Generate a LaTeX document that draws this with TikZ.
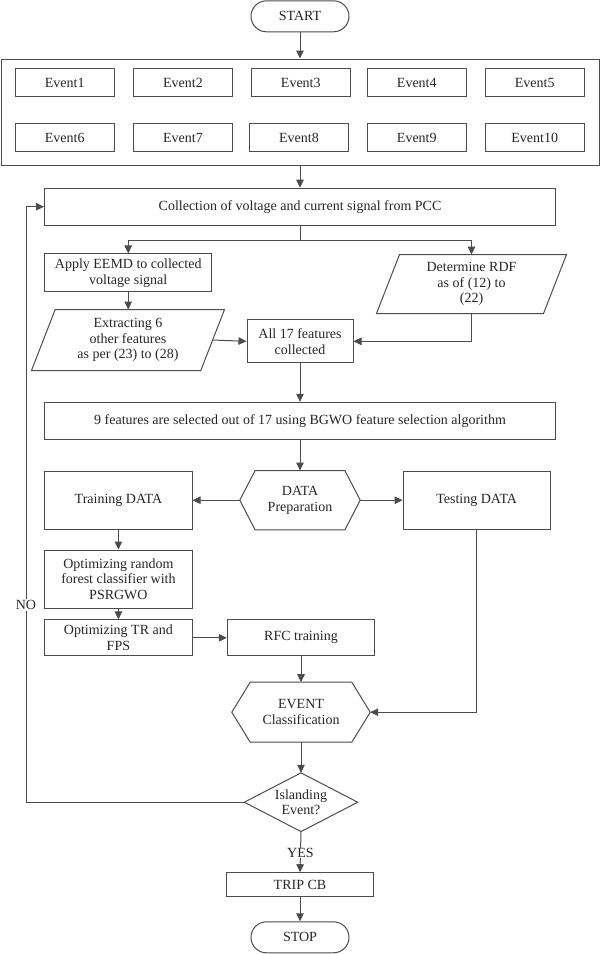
\documentclass[tikz,border=0pt]{standalone}
\usepackage{fontspec}
\setmainfont{Liberation Serif}
\usetikzlibrary{arrows.meta,calc}
\begin{document}
\begin{tikzpicture}[x=1pt,y=-1pt,
  line width=1pt,
  every node/.style={font=\fontsize{14}{15.8}\selectfont, text=black!85, inner sep=0pt, align=center},
  box/.style={draw=black!70, rectangle, minimum width=#1},
  box/.default=147pt,
  plain/.style={rectangle},
  term/.style={draw=black!70, rectangle, rounded corners=15.5pt, minimum width=98pt, minimum height=31pt},
  ev/.style={draw=black!70, rectangle, minimum width=99pt, minimum height=28.5pt},
  arr/.style={draw=black!70, -{Triangle[length=8pt,width=7.5pt]}},
  ln/.style={draw=black!70},
  shp/.style={draw=black!70}
]
\useasboundingbox (0,0) rectangle (600,954);

% START
\node[term] (start) at (300,16.3) {START};

% outer events box
\node[draw=black!70, rectangle, minimum width=598pt, minimum height=106pt] (events) at (300,112) {};
\foreach \i/\x in {1/64.7,2/183,3/300.8,4/416.8,5/534.7}{
  \node[ev] (e\i) at (\x,82.5) {Event\i};
}
\foreach \i/\x in {6/64.7,7/183,8/299,9/416.8,10/534.7}{
  \node[ev] (e\i) at (\x,137.5) {Event\i};
}

% collection
\node[box=511pt, minimum height=37pt] (coll) at (300,206.7) {Collection of voltage and current signal from PCC};

% EEMD
\node[box=167pt, minimum height=37.7pt] (eemd) at (128.2,272.8) {Apply EEMD to collected\\voltage signal};

% Extracting parallelogram
\node[plain, minimum width=192pt, minimum height=60pt] (ext) at (128,340) {Extracting 6\\other features\\as per (23) to (28)};
\draw[shp] ([xshift=23.7pt]ext.north west) -- (ext.north east) -- ([xshift=-23.7pt]ext.south east) -- (ext.south west) -- cycle;
\coordinate (extR) at ($(ext.east)+(-11.85,0)$);

% RDF parallelogram
\node[plain, minimum width=189pt, minimum height=58pt] (rdf) at (471.5,284) {Determine RDF\\as of (12) to\\(22)};
\draw[shp] ([xshift=23pt]rdf.north west) -- (rdf.north east) -- ([xshift=-23pt]rdf.south east) -- (rdf.south west) -- cycle;

% All 17
\node[box=106pt, minimum height=42.7pt] (all) at (300,341.3) {All 17 features\\collected};

% 9 features
\node[box=511pt, minimum height=37pt] (sel) at (300,420.8) {9 features are selected out of 17 using BGWO feature selection algorithm};

% DATA preparation hexagon
\node[plain, minimum width=119.4pt, minimum height=58.3pt] (prep) at (300,500.2) {DATA\\Preparation};
\draw[shp] (prep.west) -- ([xshift=15.3pt]prep.north west) -- ([xshift=-15.3pt]prep.north east) -- (prep.east) -- ([xshift=-15.3pt]prep.south east) -- ([xshift=15.3pt]prep.south west) -- cycle;

% Training / Testing
\node[box=147.2pt, minimum height=58.3pt] (train) at (118.4,500.2) {Training DATA};
\node[box=147.3pt, minimum height=58.3pt] (test) at (476.7,500.2) {Testing DATA};

% Optimizing random forest
\node[box=147.2pt, minimum height=58.3pt] (optrf) at (118.4,579.2) {Optimizing random\\forest classifier with\\PSRGWO};

% Optimizing TR and FPS
\node[box=147.2pt, minimum height=35.7pt] (opttr) at (118.4,637.8) {Optimizing TR and\\FPS};

% RFC training
\node[box=147.4pt, minimum height=35.7pt] (rfc) at (301,637.8) {RFC training};

% EVENT Classification hexagon
\node[plain, minimum width=137.4pt, minimum height=59pt] (cls) at (301,712.2) {EVENT\\Classification};
\draw[shp] (cls.west) -- ([xshift=18.4pt]cls.north west) -- ([xshift=-18.4pt]cls.north east) -- (cls.east) -- ([xshift=-18.4pt]cls.south east) -- ([xshift=18.4pt]cls.south west) -- cycle;

% decision diamond
\node[plain, minimum width=112.4pt, minimum height=57.7pt] (dec) at (301,802.2) {Islanding\\Event?};
\draw[shp] (dec.north) -- (dec.east) -- (dec.south) -- (dec.west) -- cycle;

% TRIP CB
\node[box=147pt, minimum height=24pt] (trip) at (300,884.7) {TRIP CB};

% STOP
\node[term] (stop) at (300,937.3) {STOP};

% connectors
\draw[arr] (start.south) -- (events.north);
\draw[arr] (events.south) -- (coll.north);
\coordinate (split) at (300,240.7);
\draw[ln] (coll.south) -- (split);
\draw[arr] (split) -| (eemd.north);
\draw[arr] (split) -| (rdf.north);
\draw[arr] (eemd.south) -- (ext.north -| eemd.south);
\draw[arr] (extR) -- (all.west);
\draw[arr] (rdf.south) |- (all.east);
\draw[arr] (all.south) -- (sel.north);
\draw[arr] (sel.south) -- (prep.north);
\draw[arr] (prep.west) -- (train.east);
\draw[arr] (prep.east) -- (test.east -| test.west);
\draw[arr] (train.south) -- (optrf.north);
\draw[arr] (optrf.south) -- (opttr.north);
\draw[arr] (opttr.east) -- (rfc.west);
\draw[arr] (rfc.south) -- (cls.north);
\draw[arr] (test.south) |- (cls.east);
\draw[arr] (cls.south) -- (dec.north);
\coordinate (nocorner) at (26,802.2);
\draw[arr] (dec.west) -- (nocorner) |- (coll.west);
\node[fill=white, inner sep=1pt] (no) at (26,605) {NO};
\draw[arr] (dec.south) -- (trip.north);
\node[fill=white, inner sep=0.5pt] (yes) at (300.4,853) {YES};
\draw[arr] (trip.south) -- (stop.north);
\end{tikzpicture}
\end{document}
